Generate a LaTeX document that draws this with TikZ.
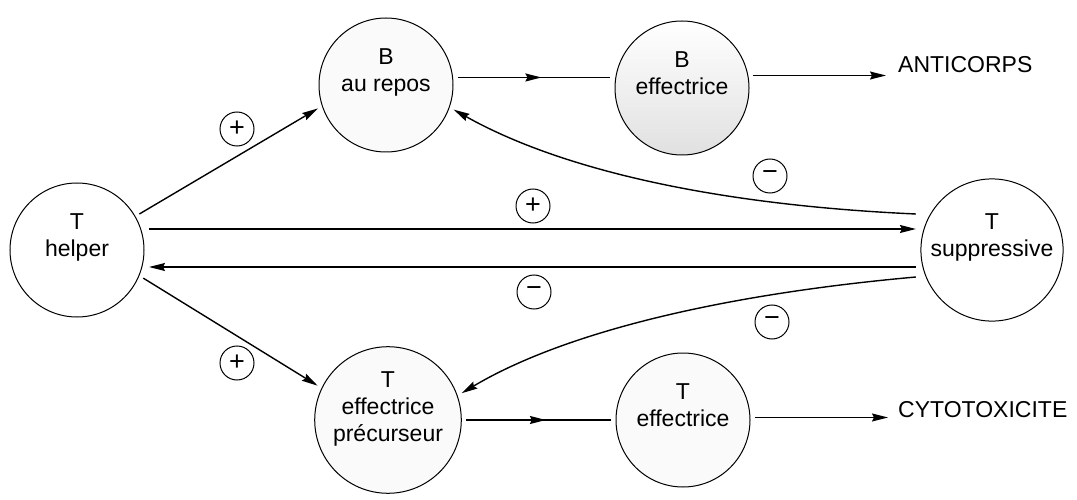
\documentclass[tikz,border=0pt]{standalone}
\usepackage{fontspec}
\setmainfont{Liberation Sans}
\usetikzlibrary{arrows.meta,decorations.markings}
\begin{document}
\begin{tikzpicture}[x=1pt,y=-1pt,
  cell/.style={circle,draw,line width=1pt,minimum size=134pt,inner sep=0pt,outer sep=5pt,align=center,font=\fontsize{23}{27}\selectfont},
  sign/.style={circle,draw,line width=1pt,minimum size=34pt,inner sep=0pt,font=\fontsize{27}{27}\selectfont},
  lbl/.style={inner sep=0pt,anchor=base west,font=\fontsize{23}{27}\selectfont},
  arr/.style={line width=1.4pt,-{Stealth[length=16pt,width=8pt,inset=2pt]}},
  midarr/.style={line width=1.4pt,decoration={markings,mark=at position 0.55 with {\arrow{Stealth[length=16pt,width=8pt,inset=2pt]}}},postaction={decorate}},
  raise/.style={execute at begin node={\vspace*{-10pt}}},
]
\useasboundingbox (0,0) rectangle (1077,500);
\fill[white] (0,0) rectangle (1077,500);

\node[cell] (helper) at (77,250) {T\\helper\\[-6pt]\strut};
\node[cell,fill=black!2] (brepos) at (386,85) {B\\au repos\\[-6pt]\strut};
\node[cell,top color=white,middle color=white,bottom color=black!12] (beff) at (682,88) {B\\effectrice\\[-6pt]\strut};
\node[cell] (sup) at (992,250) {T\\suppressive\\[-6pt]\strut};
\node[cell,fill=black!2] (prec) at (388,420) {T\\effectrice\\précurseur\\[-8pt]\strut};
\node[cell,fill=black!2] (teff) at (683,420) {T\\effectrice\\[-6pt]\strut};

\node[lbl] (anti) at (898,73) {ANTICORPS};
\node[lbl] (cyto) at (898,417) {CYTOTOXICITE};

\node[sign] (s1) at (237,129) {+};
\node[sign] (s2) at (237,363) {+};
\node[sign] (s3) at (533,206) {+};
\node[sign] (s4) at (534,292) {−};
\node[sign] (s5) at (770,176) {−};
\node[sign] (s6) at (772,322) {−};

\draw[arr] (helper.30) -- (brepos.199);
\draw[arr] (helper.-23) -- (prec.154);
\draw[arr] ([yshift=21pt]helper.east) -- ([yshift=21pt]sup.west);
\draw[arr] ([yshift=-17pt]sup.west) -- ([yshift=-17pt]helper.east);
\draw[arr] ([yshift=36pt]sup.west) .. controls (716,205) and (561,170) .. (brepos.-20);
\draw[arr] ([yshift=-27pt]sup.west) .. controls (715,295) and (561,334) .. (prec.20);

\draw[midarr] (brepos.6) -- (brepos.6 -| beff.west);
\draw[midarr] (prec.east) -- (teff.west);

\draw[arr,shorten >=12pt] (beff.10) -- (beff.10 -| anti.west);
\draw[arr,shorten >=10pt] (teff.2) -- (teff.2 -| cyto.west);
\end{tikzpicture}
\end{document}
